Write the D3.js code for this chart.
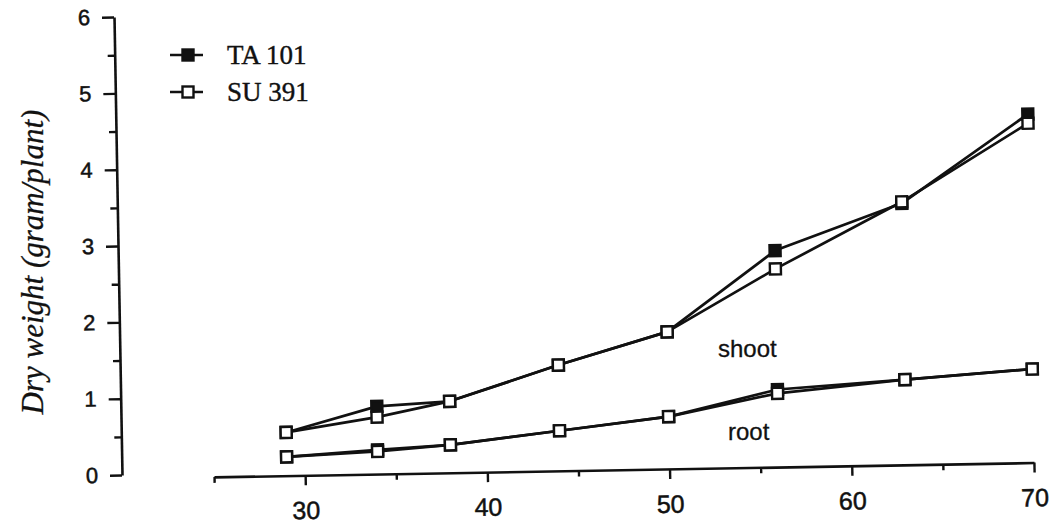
<!DOCTYPE html>
<html>
<head>
<meta charset="utf-8">
<script src="https://cdn.jsdelivr.net/npm/d3@7"></script>
<style>
  html, body { margin: 0; padding: 0; background: #fff; }
  svg { display: block; }
</style>
</head>
<body>
<svg id="chart" width="1052" height="529"></svg>
<script>
// Days after sowing at each harvest
const days = [29, 34, 38, 44, 50, 56, 63, 70];

// Dry weight (gram/plant) per harvest
const shootTA = [0.52, 0.84, 0.89, 1.34, 1.75, 2.79, 3.38, 4.52];
const shootSU = [0.52, 0.70, 0.89, 1.34, 1.75, 2.55, 3.40, 4.40];
const rootTA  = [0.20, 0.27, 0.32, 0.48, 0.64, 0.97, 1.07, 1.18];
const rootSU  = [0.20, 0.25, 0.32, 0.48, 0.64, 0.92, 1.07, 1.18];

// Axis ticks
const xMajor = [30, 40, 50, 60, 70];
const xMinor = [25, 35, 45, 55, 65];
const yMajor = [0, 1, 2, 3, 4, 5, 6];
const yMinor = [0.5, 1.5, 2.5, 3.5, 4.5, 5.5];

const cultivars = ["TA 101", "SU 391"];
const organs = ["shoot", "root"];

const ink = "#111";
const sans = "'Liberation Sans', Arial, sans-serif";
const serif = "'Liberation Serif', 'Times New Roman', serif";
const svg = d3.select("#chart");

const x = d3.scaleLinear().domain([25, 70]).range([214, 1034]);
const y = d3.scaleLinear().domain([0, 6]).range([475, 17]);
const yAxisX = 122;
const xAxisY = 478.5;

// Whole plot area sits at a slight tilt
const plot = svg.append("g").attr("transform", `rotate(-1, ${yAxisX}, 475)`);

function styleAxis(g) {
  g.selectAll("path.domain").attr("stroke", ink).attr("stroke-width", 2.6);
  g.selectAll(".tick line").attr("stroke", ink).attr("stroke-width", 2.4);
  g.selectAll(".tick text").attr("fill", ink)
    .attr("stroke", ink).attr("stroke-width", 0.5);
}

// X axis
plot.append("g")
  .attr("transform", `translate(0,${xAxisY})`)
  .call(d3.axisBottom(x).tickValues(xMinor).tickSize(6).tickSizeOuter(0).tickFormat(() => ""))
  .call(styleAxis);
plot.append("g")
  .attr("transform", `translate(0,${xAxisY})`)
  .call(d3.axisBottom(x).tickValues(xMajor).tickSize(10).tickPadding(16).tickSizeOuter(0).tickFormat(d3.format("d")))
  .call(g => g.select("path.domain").remove())
  .call(styleAxis)
  .call(g => g.selectAll(".tick text")
    .attr("font-family", sans)
    .attr("font-size", 25));

// Y axis
plot.append("g")
  .attr("transform", `translate(${yAxisX},0)`)
  .call(d3.axisLeft(y).tickValues(yMinor).tickSize(7).tickSizeOuter(0).tickFormat(() => ""))
  .call(styleAxis);
plot.append("g")
  .attr("transform", `translate(${yAxisX},0)`)
  .call(d3.axisLeft(y).tickValues(yMajor).tickSize(12).tickPadding(12).tickSizeOuter(0).tickFormat(d3.format("d")))
  .call(g => g.select("path.domain").remove())
  .call(styleAxis)
  .call(g => g.selectAll(".tick text")
    .attr("font-family", sans)
    .attr("font-size", 22));

// Series
const series = [
  { name: cultivars[0], organ: organs[0], values: shootTA, filled: true },
  { name: cultivars[0], organ: organs[1], values: rootTA, filled: true },
  { name: cultivars[1], organ: organs[0], values: shootSU, filled: false },
  { name: cultivars[1], organ: organs[1], values: rootSU, filled: false }
];

const line = d3.line().x(d => x(d[0])).y(d => y(d[1]));
const box = 11;

series.forEach(s => {
  const pts = days.map((d, i) => [d, s.values[i]]);
  plot.append("path")
    .datum(pts)
    .attr("d", line)
    .attr("fill", "none")
    .attr("stroke", ink)
    .attr("stroke-width", 2.7)
    .attr("stroke-linejoin", "round");
});

series.forEach(s => {
  const pts = days.map((d, i) => [d, s.values[i]]);
  plot.append("g").selectAll("rect")
    .data(pts)
    .join("rect")
    .attr("x", d => x(d[0]) - box / 2)
    .attr("y", d => y(d[1]) - box / 2)
    .attr("width", box)
    .attr("height", box)
    .attr("fill", s.filled ? ink : "#fff")
    .attr("stroke", ink)
    .attr("stroke-width", 2.4);
});

// Organ labels
[[organs[0], 718, 357], [organs[1], 728, 440]].forEach(([t, lx, ly]) => {
  svg.append("text")
    .attr("x", lx).attr("y", ly)
    .attr("font-family", sans)
    .attr("font-size", 24)
    .attr("fill", ink)
    .attr("stroke", ink).attr("stroke-width", 0.3)
    .text(t);
});

// Y axis title
svg.append("text")
  .attr("transform", "translate(43,262) rotate(-90)")
  .attr("text-anchor", "middle")
  .attr("font-family", serif)
  .attr("font-style", "italic")
  .attr("font-size", 31)
  .attr("fill", ink)
  .attr("stroke", ink).attr("stroke-width", 0.3)
  .text("Dry weight (gram/plant)");

// Legend
const legend = svg.append("g");
cultivars.forEach((c, i) => {
  const ly = 55 + i * 37;
  const g = legend.append("g");
  g.append("line")
    .attr("x1", 170).attr("x2", 203)
    .attr("y1", ly).attr("y2", ly)
    .attr("stroke", ink).attr("stroke-width", 2.6);
  g.append("rect")
    .attr("x", 188 - box / 2).attr("y", ly - box / 2)
    .attr("width", box).attr("height", box)
    .attr("fill", i === 0 ? ink : "#fff")
    .attr("stroke", ink).attr("stroke-width", 2.4);
  g.append("text")
    .attr("x", 227).attr("y", ly + 9)
    .attr("font-family", serif)
    .attr("font-size", 27)
    .attr("fill", ink)
    .attr("stroke", ink).attr("stroke-width", 0.4)
    .text(c);
});
</script>
</body>
</html>
